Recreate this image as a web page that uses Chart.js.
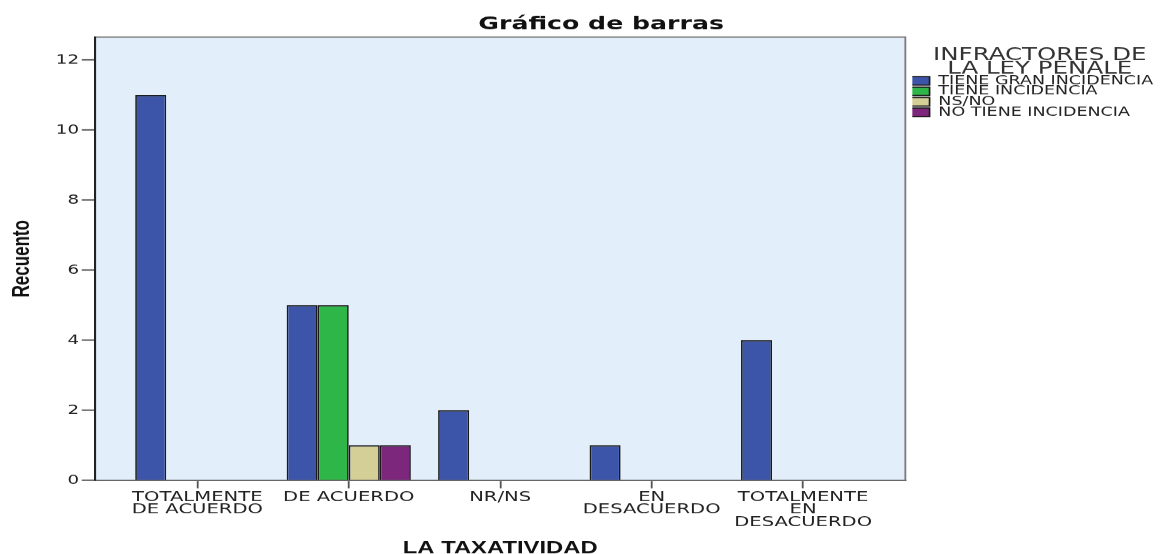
<!DOCTYPE html>
<html>
<head>
<meta charset="utf-8">
<title>Gráfico de barras</title>
<script src="https://cdn.jsdelivr.net/npm/chart.js@4.4.1/dist/chart.umd.min.js"></script>
<style>
  html, body { margin: 0; padding: 0; background: #fff; overflow: hidden; }
  /* the reference picture is stretched sideways, so the chart is drawn narrow and scaled */
  #wrap { position: absolute; left: 0; top: 0; width: 835px; height: 554px; transform: scaleX(1.4); transform-origin: 0 0; }
</style>
</head>
<body>
<div id="wrap"><canvas id="chart"></canvas></div>
<script>
// Datos
const categories = [["TOTALMENTE", "DE ACUERDO"], "DE ACUERDO", "NR/NS", ["EN", "DESACUERDO"], ["TOTALMENTE", "EN", "DESACUERDO"]];
const seriesNames = ["TIENE GRAN INCIDENCIA", "TIENE INCIDENCIA", "NS/NO", "NO TIENE INCIDENCIA"];
const granIncidencia = [11, 5, 2, 1, 4];
const incidencia = [0, 5, 0, 0, 0];
const nsNo = [0, 1, 0, 0, 0];
const noIncidencia = [0, 1, 0, 0, 0];
const yTicks = [0, 2, 4, 6, 8, 10, 12];

const colors = ["#3C55A9", "#2EB648", "#D4CE97", "#7C267C"];
const series = [granIncidencia, incidencia, nsNo, noIncidencia];

Chart.defaults.font.family = "'DejaVu Sans', sans-serif";
Chart.defaults.color = "#222";

// fondo y marco del area de trazado
const plotFrame = {
  id: "plotFrame",
  beforeDraw(chart) {
    const { ctx, chartArea: a } = chart;
    ctx.save();
    ctx.fillStyle = "#E2EEFA";
    ctx.fillRect(a.left, a.top, a.right - a.left, a.bottom - a.top);
    ctx.strokeStyle = "#7a7a7a";
    ctx.lineWidth = 1.3;
    ctx.strokeRect(a.left, a.top, a.right - a.left, a.bottom - a.top);
    ctx.restore();
  },
  afterLayout(chart) {
    // la leyenda empieza un poco a la derecha del marco
    chart.legend.left += 5;
    chart.legend.right += 5;
    // el titulo esta algo desplazado a la derecha en el original
    chart.titleBlock.left += 15;
    chart.titleBlock.right += 15;
  }
};

const ctx = document.getElementById("chart").getContext("2d");
new Chart(ctx, {
  type: "bar",
  data: {
    datasets: series.map((vals, k) => ({
      label: seriesNames[k],
      data: vals.map((v, i) => ({ x: i, y: v })),
      backgroundColor: colors[k],
      borderColor: "#1a1a1a",
      borderWidth: 1.2,
      categoryPercentage: 0.82,
      barPercentage: 1
    }))
  },
  options: {
    responsive: true,
    maintainAspectRatio: false,
    devicePixelRatio: 1.4,
    animation: false,
    layout: { padding: { left: 0, right: 6.3, top: 0, bottom: 0 } },
    plugins: {
      tooltip: { enabled: false },
      title: {
        display: true,
        text: "Gráfico de barras",
        color: "#111",
        font: { family: "'DejaVu Sans', sans-serif", size: 18, weight: "bold", lineHeight: 1.2 },
        padding: { top: 13.7, bottom: 1.7 }
      },
      legend: {
        position: "right",
        align: "start",
        fullSize: false,
        title: {
          display: true,
          text: ["INFRACTORES DE", "LA LEY PENALE"],
          color: "#333",
          font: { size: 17.5, lineHeight: "13.3px" },
          padding: { top: 10, bottom: 16.2 }
        },
        labels: {
          boxWidth: 14.3,
          boxHeight: 8.5,
          padding: -2,
          color: "#222",
          font: { size: 12.5 }
        }
      }
    },
    scales: {
      x: {
        type: "linear",
        min: -0.675,
        max: 4.675,
        offset: false,
        afterBuildTicks: (s) => { s.ticks = categories.map((c, i) => ({ value: i })); },
        afterFit: (s) => { s.height = 74; },
        grid: { display: true, offset: false, drawOnChartArea: false, tickLength: 8, tickColor: "#555", tickWidth: 1.3 },
        border: { color: "#666", width: 1.5 },
        ticks: {
          autoSkip: false,
          maxRotation: 0,
          padding: 2.5,
          color: "#222",
          font: { size: 14, lineHeight: "12.5px" },
          callback: (v) => categories[v]
        },
        title: {
          display: true,
          text: "LA TAXATIVIDAD",
          color: "#111",
          font: { family: "'Liberation Sans', Arial, sans-serif", size: 17, weight: "bold", lineHeight: "12px" },
          padding: { top: 0, bottom: 0 }
        }
      },
      y: {
        min: 0,
        max: 12.66,
        afterBuildTicks: (s) => { s.ticks = yTicks.map((v) => ({ value: v })); },
        afterFit: (s) => { s.width = 67.9; },
        grid: { display: true, drawOnChartArea: false, tickLength: 9.5, tickColor: "#333", tickWidth: 1.2 },
        border: { color: "#222", width: 1.5 },
        ticks: { padding: 2, color: "#222", font: { size: 13 } },
        title: {
          display: true,
          text: "Recuento",
          color: "#111",
          font: { family: "'Liberation Sans', Arial, sans-serif", size: 17, weight: "bold", lineHeight: 1.2 },
          padding: { top: 5.8, bottom: 0 }
        }
      }
    }
  },
  plugins: [plotFrame]
});
</script>
</body>
</html>
